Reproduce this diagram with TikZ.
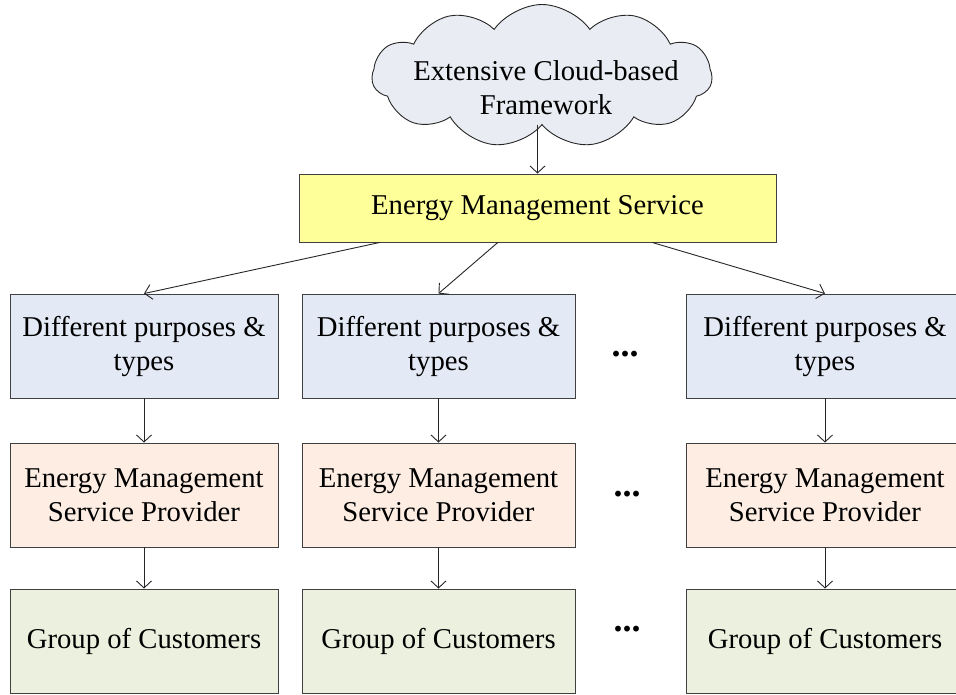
\documentclass[tikz,border=0pt]{standalone}
\usepackage{fontspec}
\setmainfont{Liberation Serif}
\usetikzlibrary{shapes.symbols,arrows.meta,calc}

\definecolor{cloudfill}{HTML}{E9ECF2}
\definecolor{emsyellow}{HTML}{FFFF99}
\definecolor{purposeblue}{HTML}{E3EAF5}
\definecolor{provorange}{HTML}{FDEDE3}
\definecolor{custgreen}{HTML}{EBF0DF}

\begin{document}
\begin{tikzpicture}[x=1pt,y=-1pt,
    every node/.style={font=\fontsize{28.7}{34}\selectfont},
    box/.style={draw=black!75,line width=0.9pt,rectangle,minimum height=104pt,align=center,inner sep=2pt},
    arr/.style={-{Straight Barb[length=7pt,width=15pt]},line width=0.9pt,black!85},
    more/.style={anchor=base,font=\fontsize{36}{36}\selectfont\bfseries}]
    \useasboundingbox (0,0) rectangle (956,694);

    \node (cloud) [cloud,cloud puffs=11,cloud puff arc=110,cloud ignores aspect,draw=black!85,fill=cloudfill,
        line width=0.9pt,minimum width=340pt,minimum height=143pt] at (542,76) {};
    \node (cloudtext) [align=center] at (546,88) {Extensive Cloud-based\\Framework};
    \node (ems) [box,fill=emsyellow,minimum width=477pt,minimum height=68pt] at (537.5,208)
        {Energy Management Service};
    \draw[arr] (cloud.south -| ems.north) -- (ems.north);

    % one column per purpose
    \foreach \x/\w/\n in {144/268/1,438.5/273/2,825/278/3} {
        \node (dpt\n) [box,fill=purposeblue,minimum width=\w pt] at (\x,346) {Different purposes \&\\types};
        \node (emsp\n) [box,fill=provorange,minimum width=\w pt] at (\x,495) {Energy Management\\Service Provider};
        \node (gc\n) [box,fill=custgreen,minimum width=\w pt] at (\x,641) {Group of Customers};
        \draw[arr] (dpt\n) -- (emsp\n);
        \draw[arr] (emsp\n) -- (gc\n);
    }

    \node (dots1) [more] at (625,356) {...};
    \node (dots2) [more] at (627,496) {...};
    \node (dots3) [more] at (627,631) {...};

    \draw[arr] ($(ems.south west)!.17!(ems.south east)$) -- (dpt1.north);
    \draw[arr] ($(ems.south west)!.417!(ems.south east)$) -- (dpt2.north);
    \draw[arr] ($(ems.south west)!.74!(ems.south east)$) -- (dpt3.north);
\end{tikzpicture}
\end{document}
